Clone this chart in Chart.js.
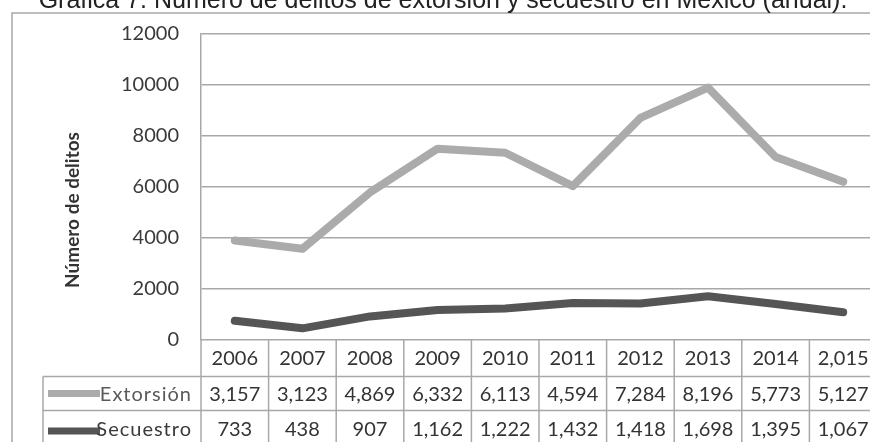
<!DOCTYPE html>
<html><head><meta charset="utf-8">
<script src="https://cdn.jsdelivr.net/npm/chart.js@4.4.0/dist/chart.umd.min.js"></script>
<style>
html,body{margin:0;padding:0;background:#fff;overflow:hidden;width:870px;height:442px;}
#wrap{position:relative;width:870px;height:442px;overflow:hidden;background:#fff;}
#title{position:absolute;left:0;top:-13px;width:886px;text-align:center;font:25px 'Liberation Sans',Arial,sans-serif;line-height:25px;color:#222;white-space:nowrap;}
canvas{position:absolute;left:0;top:0;}
</style></head><body>
<div id="wrap">
<canvas id="c" width="890" height="442" style="width:890px;height:442px"></canvas>
<div id="title">Gráfica 7. Número de delitos de extorsión y secuestro en México (anual).</div>
</div>
<script>
// ---- data ----
const years = ['2006','2007','2008','2009','2010','2011','2012','2013','2014','2,015'];
const extorsion = [3157, 3123, 4869, 6332, 6113, 4594, 7284, 8196, 5773, 5127];
const secuestro = [733, 438, 907, 1162, 1222, 1432, 1418, 1698, 1395, 1067];
const seriesNames = ['Extorsión', 'Secuestro'];
const yAxisTitle = 'Número de delitos';
const yMin = 0, yMax = 12000, yStep = 2000;

const colExt = '#ababab', colSec = '#555555', gridCol = '#a8a8a8';
const fmt = v => v.toLocaleString('en-US');

const tablePlugin = {
  id: 'tablePlugin',
  afterDraw(chart) {
    const {ctx, chartArea: ca, scales: {x}} = chart;
    const n = years.length;
    const colW = (ca.right - ca.left) / n;
    const top = ca.bottom, r1 = 376.5, r2 = 410.5, bot = chart.height;
    ctx.save();
    ctx.strokeStyle = gridCol; ctx.lineWidth = 1.5;
    for (let i = 0; i <= n; i++) {
      const xx = ca.left + i * colW;
      ctx.beginPath(); ctx.moveTo(xx, top); ctx.lineTo(xx, bot); ctx.stroke();
    }
    ctx.beginPath(); ctx.moveTo(43, r1); ctx.lineTo(43, bot); ctx.stroke();
    [r1, r2].forEach(y => { ctx.beginPath(); ctx.moveTo(43, y); ctx.lineTo(chart.width, y); ctx.stroke(); });
    ctx.beginPath(); ctx.moveTo(12, bot); ctx.lineTo(12, 13); ctx.lineTo(chart.width, 13); ctx.stroke();

    ctx.font = '20px Lato'; ctx.fillStyle = '#333'; ctx.textAlign = 'center'; ctx.textBaseline = 'middle';
    const rows = [[extorsion, 395], [secuestro, 430]];
    rows.forEach(([arr, y]) => arr.forEach((v, i) => ctx.fillText(fmt(v), x.getPixelForValue(i), y)));

    const keys = [[seriesNames[0], colExt, 393.5, 395, '#5a5a5a'], [seriesNames[1], colSec, 431, 430, '#3a3a3a']];
    keys.forEach(([name, c, ly, ty, tc]) => {
      ctx.strokeStyle = c; ctx.lineWidth = 7; ctx.lineCap = 'butt';
      ctx.beginPath(); ctx.moveTo(48, ly); ctx.lineTo(100, ly); ctx.stroke();
      ctx.fillStyle = tc; ctx.textAlign = 'right'; ctx.font = '20px Lato';
      if ('letterSpacing' in ctx) ctx.letterSpacing = '1px';
      ctx.fillText(name, 192, ty);
      if ('letterSpacing' in ctx) ctx.letterSpacing = '0px';
    });

    ctx.translate(73, 210); ctx.rotate(-Math.PI / 2);
    ctx.font = 'bold 19px Lato'; ctx.fillStyle = '#333'; ctx.textAlign = 'center'; ctx.textBaseline = 'middle';
    ctx.fillText(yAxisTitle, 0, 0);
    ctx.restore();
  }
};

new Chart(document.getElementById('c'), {
  type: 'line',
  data: {
    labels: years,
    datasets: [
      { label: seriesNames[1], data: secuestro, borderColor: colSec, borderWidth: 8, pointRadius: 0, fill: false, tension: 0, borderCapStyle: 'round', borderJoinStyle: 'round' },
      { label: seriesNames[0], data: extorsion, borderColor: colExt, borderWidth: 8, pointRadius: 0, fill: false, tension: 0, borderCapStyle: 'round', borderJoinStyle: 'round' }
    ]
  },
  options: {
    responsive: false, animation: false,
    layout: { padding: { top: 26, right: 13, left: 0, bottom: 0 } },
    plugins: { legend: { display: false }, tooltip: { enabled: false }, title: { display: false } },
    scales: {
      x: {
        offset: true,
        grid: { display: false, drawTicks: false },
        border: { display: false },
        ticks: { font: { family: 'Lato', size: 20 }, color: '#333', padding: 7, maxRotation: 0, autoSkip: false },
        afterFit: s => { s.height = 102.5; }
      },
      y: {
        stacked: true, min: yMin, max: yMax,
        grid: { color: gridCol, lineWidth: 1.5, drawTicks: false },
        border: { display: true, color: gridCol, width: 1.5 },
        ticks: { stepSize: yStep, font: { family: 'Lato', size: 20 }, color: '#3a3a3a', padding: 22, callback: v => String(v) },
        afterFit: s => { s.width = 201; }
      }
    }
  },
  plugins: [tablePlugin]
});
</script>
</body></html>
